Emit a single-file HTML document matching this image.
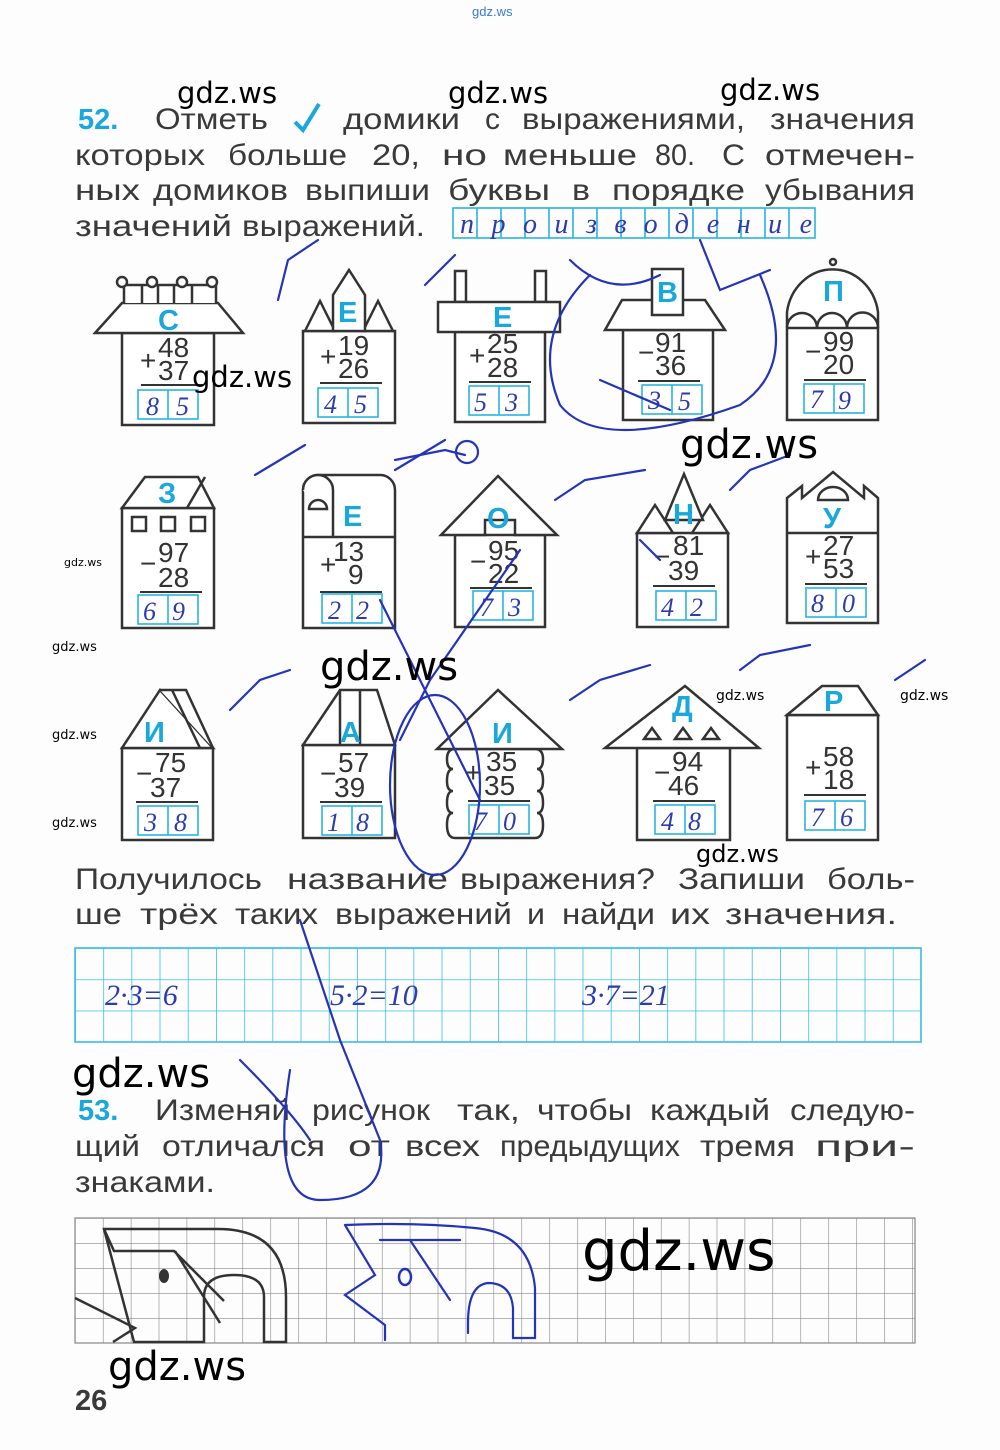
<!DOCTYPE html>
<html><head><meta charset="utf-8"><style>
html,body{margin:0;padding:0;background:#fff;}
svg{display:block;}
.t text{font-family:"Liberation Sans",sans-serif;font-size:30px;fill:#3a3a3a;}
.n{font-family:"Liberation Sans",sans-serif;font-size:28px;fill:#333;}
.L{font-family:"Liberation Sans",sans-serif;font-size:29px;font-weight:bold;fill:#1aa7dc;}
.h{font-family:"Liberation Serif",serif;font-style:italic;font-size:26px;fill:#2b3bb0;}
.w{font-family:"DejaVu Sans",sans-serif;fill:#000;}
.s{fill:#fff;stroke:#333;stroke-width:2.5;}
.b{fill:none;stroke:#28b4e0;stroke-width:1.6;}
.p{fill:none;stroke:#2434b8;stroke-width:2.2;stroke-linecap:round;}
</style></head><body>
<svg width="1000" height="1450" viewBox="0 0 1000 1450">
<rect width="1000" height="1450" fill="#fdfdfe"/>
<text x="472" y="16" font-family="Liberation Sans" font-size="13" fill="#3a7ad0">gdz.ws</text>

<text class="L" x="78" y="129">52.</text>
<path d="M295 122l8 8 16-26" stroke="#1aa7dc" stroke-width="4" fill="none"/>
<g class="t" lengthAdjust="spacingAndGlyphs">
<text x="155" y="129" textLength="113" lengthAdjust="spacingAndGlyphs">Отметь</text>
<text x="343" y="129" textLength="117" lengthAdjust="spacingAndGlyphs">домики</text>
<text x="485" y="129" textLength="15" lengthAdjust="spacingAndGlyphs">с</text>
<text x="522" y="129" textLength="223" lengthAdjust="spacingAndGlyphs">выражениями,</text>
<text x="770" y="129" textLength="145" lengthAdjust="spacingAndGlyphs">значения</text>

<text x="75" y="165" textLength="130" lengthAdjust="spacingAndGlyphs">которых</text>
<text x="228" y="165" textLength="119" lengthAdjust="spacingAndGlyphs">больше</text>
<text x="372" y="165" textLength="48" lengthAdjust="spacingAndGlyphs">20,</text>
<text x="442" y="165" textLength="45" lengthAdjust="spacingAndGlyphs">но</text>
<text x="503" y="165" textLength="134" lengthAdjust="spacingAndGlyphs">меньше</text>
<text x="655" y="165" textLength="40" lengthAdjust="spacingAndGlyphs">80.</text>
<text x="722" y="165" textLength="23" lengthAdjust="spacingAndGlyphs">С</text>
<text x="765" y="165" textLength="150" lengthAdjust="spacingAndGlyphs">отмечен-</text>

<text x="75" y="200" textLength="65" lengthAdjust="spacingAndGlyphs">ных</text>
<text x="153" y="200" textLength="135" lengthAdjust="spacingAndGlyphs">домиков</text>
<text x="305" y="200" textLength="125" lengthAdjust="spacingAndGlyphs">выпиши</text>
<text x="448" y="200" textLength="102" lengthAdjust="spacingAndGlyphs">буквы</text>
<text x="572" y="200" textLength="18" lengthAdjust="spacingAndGlyphs">в</text>
<text x="612" y="200" textLength="133" lengthAdjust="spacingAndGlyphs">порядке</text>
<text x="765" y="200" textLength="150" lengthAdjust="spacingAndGlyphs">убывания</text>

<text x="75" y="236" textLength="157" lengthAdjust="spacingAndGlyphs">значений</text>
<text x="242" y="236" textLength="183" lengthAdjust="spacingAndGlyphs">выражений.</text>

<text x="75" y="889" textLength="187" lengthAdjust="spacingAndGlyphs">Получилось</text>
<text x="287" y="889" textLength="161" lengthAdjust="spacingAndGlyphs">название</text>
<text x="460" y="889" textLength="195" lengthAdjust="spacingAndGlyphs">выражения?</text>
<text x="678" y="889" textLength="127" lengthAdjust="spacingAndGlyphs">Запиши</text>
<text x="827" y="889" textLength="88" lengthAdjust="spacingAndGlyphs">боль-</text>

<text x="75" y="924" textLength="47" lengthAdjust="spacingAndGlyphs">ше</text>
<text x="140" y="924" textLength="78" lengthAdjust="spacingAndGlyphs">трёх</text>
<text x="235" y="924" textLength="83" lengthAdjust="spacingAndGlyphs">таких</text>
<text x="335" y="924" textLength="177" lengthAdjust="spacingAndGlyphs">выражений</text>
<text x="527" y="924" textLength="18" lengthAdjust="spacingAndGlyphs">и</text>
<text x="562" y="924" textLength="93" lengthAdjust="spacingAndGlyphs">найди</text>
<text x="670" y="924" textLength="40" lengthAdjust="spacingAndGlyphs">их</text>
<text x="725" y="924" textLength="172" lengthAdjust="spacingAndGlyphs">значения.</text>

<text x="155" y="1120" textLength="135" lengthAdjust="spacingAndGlyphs">Изменяй</text>
<text x="312" y="1120" textLength="118" lengthAdjust="spacingAndGlyphs">рисунок</text>
<text x="457" y="1120" textLength="63" lengthAdjust="spacingAndGlyphs">так,</text>
<text x="537" y="1120" textLength="95" lengthAdjust="spacingAndGlyphs">чтобы</text>
<text x="650" y="1120" textLength="120" lengthAdjust="spacingAndGlyphs">каждый</text>
<text x="790" y="1120" textLength="125" lengthAdjust="spacingAndGlyphs">следую-</text>

<text x="75" y="1156" textLength="65" lengthAdjust="spacingAndGlyphs">щий</text>
<text x="162" y="1156" textLength="163" lengthAdjust="spacingAndGlyphs">отличался</text>
<text x="348" y="1156" textLength="42" lengthAdjust="spacingAndGlyphs">от</text>
<text x="405" y="1156" textLength="75" lengthAdjust="spacingAndGlyphs">всех</text>
<text x="500" y="1156" textLength="180" lengthAdjust="spacingAndGlyphs">предыдущих</text>
<text x="700" y="1156" textLength="95" lengthAdjust="spacingAndGlyphs">тремя</text>
<text x="815" y="1156" textLength="100" lengthAdjust="spacingAndGlyphs">при-</text>

<text x="75" y="1192" textLength="140" lengthAdjust="spacingAndGlyphs">знаками.</text>
</g>

<g class="b"><rect x="453" y="208" width="362" height="30"/>
<path d="M477 208v30M501 208v30M525 208v30M549 208v30M573 208v30M597 208v30M621 208v30M645 208v30M669 208v30M693 208v30M717 208v30M741 208v30M765 208v30M789 208v30"/></g>
<text class="h" x="460" y="233" textLength="352" style="font-size:28px">производение</text>

<!-- Row 1 -->
<g>
<rect class="s" x="122" y="333" width="92" height="92"/>
<polygon class="s" points="95,333 243,333 218,303 122,303"/>
<path class="s" d="M124 303v-18h92v18M142 303v-18M158 303v-18M174 303v-18M192 303v-18" fill="none"/>
<circle class="s" cx="122" cy="282" r="5"/><circle class="s" cx="152" cy="282" r="5"/><circle class="s" cx="182" cy="282" r="5"/><circle class="s" cx="212" cy="282" r="5"/>
<text class="L" x="158" y="330">С</text>
<text class="n" x="158" y="357">48</text><text class="n" x="140" y="370">+</text><text class="n" x="158" y="380">37</text>
<path d="M141 385h62" stroke="#333" stroke-width="2"/>
<rect class="b" x="138" y="390" width="60" height="29"/><path class="b" d="M168 390v29"/>
<text class="h" x="146" y="415">8</text><text class="h" x="176" y="415">5</text>
</g>
<g>
<rect class="s" x="303" y="331" width="92" height="92"/>
<polygon class="s" points="305,331 320,301 335,331"/><polygon class="s" points="363,331 378,301 393,331"/>
<polygon class="s" points="333,331 333,295 349,270 365,295 365,331"/>
<text class="L" x="338" y="322">Е</text>
<text class="n" x="338" y="355">19</text><text class="n" x="320" y="366">+</text><text class="n" x="338" y="378">26</text>
<path d="M320 383h62" stroke="#333" stroke-width="2"/>
<rect class="b" x="318" y="388" width="60" height="29"/><path class="b" d="M348 388v29"/>
<text class="h" x="324" y="413">4</text><text class="h" x="354" y="413">5</text>
</g>
<g>
<rect class="s" x="455" y="332" width="90" height="90"/>
<rect class="s" x="455" y="271" width="11" height="31"/><rect class="s" x="535" y="271" width="11" height="31"/>
<rect class="s" x="438" y="302" width="122" height="30"/>
<text class="L" x="493" y="327">Е</text>
<text class="n" x="487" y="353">25</text><text class="n" x="469" y="365">+</text><text class="n" x="487" y="377">28</text>
<path d="M469 382h62" stroke="#333" stroke-width="2"/>
<rect class="b" x="469" y="386" width="60" height="29"/><path class="b" d="M499 386v29"/>
<text class="h" x="474" y="411">5</text><text class="h" x="505" y="411">3</text>
</g>
<g>
<rect class="s" x="623" y="330" width="90" height="90"/>
<polygon class="s" points="605,330 725,330 705,300 622,300"/>
<rect class="s" x="652" y="269" width="31" height="46"/>
<text class="L" x="657" y="302">В</text>
<text class="n" x="655" y="352">91</text><text class="n" x="638" y="362">−</text><text class="n" x="655" y="375">36</text>
<path d="M638 381h62" stroke="#333" stroke-width="2"/>
<rect class="b" x="642" y="385" width="60" height="29"/><path class="b" d="M672 385v29"/>
<text class="h" x="648" y="409">3</text><text class="h" x="678" y="410">5</text>
</g>
<g>
<path class="s" d="M787 420V312A46 50 0 0 1 878 312V420Z"/>
<path class="s" d="M787 328h91M787 328a15 15 0 0 1 30 0a15 15 0 0 1 30 0a15 15 0 0 1 31 0" fill="none"/>
<circle class="s" cx="833" cy="262" r="3"/>
<text class="L" x="823" y="301">П</text>
<text class="n" x="823" y="351">99</text><text class="n" x="805" y="361">−</text><text class="n" x="823" y="374">20</text>
<path d="M804 380h62" stroke="#333" stroke-width="2"/>
<rect class="b" x="804" y="384" width="60" height="29"/><path class="b" d="M834 384v29"/>
<text class="h" x="810" y="408">7</text><text class="h" x="838" y="409">9</text>
</g>

<!-- Row 2 -->
<g>
<rect class="s" x="122" y="508" width="92" height="120"/>
<polygon class="s" points="122,508 145,477 198,477 214,508"/><path class="s" d="M187 508l18-31"/>
<text class="L" x="158" y="503">З</text>
<rect class="s" x="132" y="517" width="14" height="14"/><rect class="s" x="161" y="517" width="14" height="14"/><rect class="s" x="191" y="517" width="14" height="14"/>
<text class="n" x="158" y="562">97</text><text class="n" x="140" y="573">−</text><text class="n" x="158" y="587">28</text>
<path d="M140 592h62" stroke="#333" stroke-width="2"/>
<rect class="b" x="138" y="595" width="60" height="29"/><path class="b" d="M168 595v29"/>
<text class="h" x="143" y="620">6</text><text class="h" x="172" y="620">9</text>
</g>
<g>
<path class="s" d="M303 628V490a15 15 0 0 1 15-15h62a15 15 0 0 1 15 15V628Z"/>
<path class="s" d="M303 537h92M333 537V490a15 15 0 0 0-30 0" fill="none"/>
<path class="s" d="M309 509a9 9 0 0 1 18 0Z"/>
<text class="L" x="343" y="526">Е</text>
<text class="n" x="333" y="561">13</text><text class="n" x="320" y="574">+</text><text class="n" x="348" y="584">9</text>
<path d="M320 592h62" stroke="#333" stroke-width="2"/>
<rect class="b" x="322" y="594" width="60" height="29"/><path class="b" d="M352 594v29"/>
<text class="h" x="328" y="619">2</text><text class="h" x="356" y="619">2</text>
</g>
<g>
<rect class="s" x="455" y="535" width="90" height="92"/>
<polygon class="s" points="441,535 498,476 557,535 515,535 515,520 485,520 485,535"/>
<text class="L" x="487" y="528">О</text>
<text class="n" x="488" y="560">95</text><text class="n" x="470" y="571">−</text><text class="n" x="488" y="583">22</text>
<path d="M470 588h62" stroke="#333" stroke-width="2"/>
<rect class="b" x="473" y="591" width="60" height="29"/><path class="b" d="M503 591v29"/>
<text class="h" x="480" y="616">7</text><text class="h" x="508" y="616">3</text>
</g>
<g>
<rect class="s" x="637" y="533" width="91" height="94"/>
<polygon class="s" points="637,533 655,505 673,533"/><polygon class="s" points="692,533 710,505 728,533"/>
<polygon class="s" points="665,520 684,474 703,520"/>
<text class="L" x="673" y="524">Н</text>
<text class="n" x="673" y="555">81</text><text class="n" x="654" y="566">−</text><text class="n" x="668" y="580">39</text>
<path d="M653 586h62" stroke="#333" stroke-width="2"/>
<rect class="b" x="656" y="591" width="60" height="29"/><path class="b" d="M686 591v29"/>
<text class="h" x="661" y="616">4</text><text class="h" x="690" y="616">2</text>
</g>
<g>
<path class="s" d="M787 623V498l15-12v12l31-26 31 26v-12l14 12V623Z"/>
<path class="s" d="M787 533h91" fill="none"/>
<path class="s" d="M818 500a15 13 0 0 1 30 0Z"/>
<text class="L" x="823" y="528">У</text>
<text class="n" x="823" y="555">27</text><text class="n" x="805" y="566">+</text><text class="n" x="823" y="578">53</text>
<path d="M805 584h62" stroke="#333" stroke-width="2"/>
<rect class="b" x="806" y="588" width="60" height="29"/><path class="b" d="M836 588v29"/>
<text class="h" x="811" y="612">8</text><text class="h" x="842" y="612">0</text>
</g>

<!-- Row 3 -->
<g>
<rect class="s" x="122" y="748" width="91" height="92"/>
<polygon class="s" points="122,748 160,690 213,748"/><path class="s" d="M160 690l26 0 27 58M172 690l28 58" fill="none"/>
<text class="L" x="144" y="742">И</text>
<text class="n" x="155" y="772">75</text><text class="n" x="136" y="783">−</text><text class="n" x="150" y="797">37</text>
<path d="M136 802h62" stroke="#333" stroke-width="2"/>
<rect class="b" x="138" y="806" width="60" height="29"/><path class="b" d="M168 806v29"/>
<text class="h" x="144" y="831">3</text><text class="h" x="174" y="831">8</text>
</g>
<g>
<rect class="s" x="303" y="745" width="92" height="93"/>
<polygon class="s" points="303,745 340,690 377,690 395,745"/><path class="s" d="M340 690v55M360 690v55" fill="none"/>
<text class="L" x="340" y="742">А</text>
<text class="n" x="338" y="772">57</text><text class="n" x="320" y="783">−</text><text class="n" x="334" y="797">39</text>
<path d="M320 802h62" stroke="#333" stroke-width="2"/>
<rect class="b" x="322" y="806" width="60" height="29"/><path class="b" d="M352 806v29"/>
<text class="h" x="327" y="831">1</text><text class="h" x="356" y="831">8</text>
</g>
<g>
<path class="s" d="M455 749q-8 0-8 10q0 10 6 10q-6 0-6 12q0 10 6 10q-6 0-6 12q0 10 6 10q-6 0-6 12q0 13 8 13h80q8 0 8-13q0-12-6-12q6 0 6-10q0-12-6-12q6 0 6-10q0-12-6-12q6 0 6-10q0-10-8-10Z"/>
<polygon class="s" points="437,749 498,690 562,749"/>
<text class="L" x="492" y="743">И</text>
<text class="n" x="486" y="771">35</text><text class="n" x="465" y="782">+</text><text class="n" x="484" y="795">35</text>
<path d="M468 801h62" stroke="#333" stroke-width="2"/>
<rect class="b" x="469" y="805" width="60" height="29"/><path class="b" d="M499 805v29"/>
<text class="h" x="474" y="830">7</text><text class="h" x="503" y="830">0</text>
</g>
<g>
<rect class="s" x="637" y="748" width="93" height="92"/>
<polygon class="s" points="605,748 685,686 759,748"/>
<polygon class="s" points="644,739 652,728 660,739"/><polygon class="s" points="675,739 683,728 691,739"/><polygon class="s" points="703,739 711,728 719,739"/>
<text class="L" x="672" y="716">Д</text>
<text class="n" x="672" y="771">94</text><text class="n" x="654" y="782">−</text><text class="n" x="668" y="795">46</text>
<path d="M653 801h62" stroke="#333" stroke-width="2"/>
<rect class="b" x="655" y="805" width="60" height="29"/><path class="b" d="M685 805v29"/>
<text class="h" x="661" y="830">4</text><text class="h" x="688" y="830">8</text>
</g>
<g>
<rect class="s" x="787" y="715" width="91" height="125"/>
<polygon class="s" points="787,715 822,686 858,686 878,715"/>
<text class="L" x="824" y="711">Р</text>
<text class="n" x="823" y="766">58</text><text class="n" x="805" y="777">+</text><text class="n" x="823" y="789">18</text>
<path d="M804 795h62" stroke="#333" stroke-width="2"/>
<rect class="b" x="805" y="801" width="60" height="29"/><path class="b" d="M835 801v29"/>
<text class="h" x="811" y="826">7</text><text class="h" x="840" y="826">6</text>
</g>

<defs>
<pattern id="g1" x="75" y="948" width="28.2" height="31.3" patternUnits="userSpaceOnUse"><path d="M0 0h28.2M0 0v31.3" stroke="#3cbde3" stroke-width="1.6" fill="none"/></pattern>
<pattern id="g2" x="75" y="1218" width="27.9" height="25" patternUnits="userSpaceOnUse"><path d="M0 0h27.9M0 0v25" stroke="#888" stroke-width="1.2" fill="none"/></pattern>
</defs>
<rect x="75" y="948" width="846" height="94" fill="url(#g1)" stroke="#3cbde3" stroke-width="1.6"/>
<text class="h" x="105" y="1005" style="font-size:30px">2·3=6</text>
<text class="h" x="330" y="1005" style="font-size:30px">5·2=10</text>
<text class="h" x="582" y="1005" style="font-size:30px">3·7=21</text>

<text class="L" x="78" y="1120">53.</text>

<rect x="75" y="1218" width="840" height="125" fill="url(#g2)" stroke="#888" stroke-width="1.2"/>
<path d="M104 1229h54l60 0q68 0 68 68v45h-22v-45q0-22-30-22q-30 0-30 22v45h-70zM104 1229l10 22h60l50 50M75 1298l60 30-22 14M175 1251l45 72" stroke="#333" stroke-width="2.5" fill="none"/>
<ellipse cx="164" cy="1276" rx="5" ry="7" fill="#333"/>
<path class="p" d="M345 1225q70-3 130 3q55 5 60 60v50h-22v-30q-2-25-25-25q-20 2-20 40v10M345 1225l30 50-30 20 40 30v15M380 1240h80M410 1240l40 60"/>
<ellipse cx="405" cy="1277" rx="6" ry="8" fill="none" stroke="#2434b8" stroke-width="2.5"/>

<text x="75" y="1410" font-family="Liberation Sans" font-weight="bold" font-size="29" fill="#3a3a3a">26</text>

<!-- pen strokes -->
<path class="p" d="M278 300l10-40 30-20M425 285l30-30M570 260q40 40 90 15M600 380l70 30M255 475l50-30M395 470l50-30"/>
<path class="p" d="M590 275q-60 60-30 130 40 50 180 0q60-40 20-130M700 240l20 50 50-20"/>
<path class="p" d="M555 500l30-20 60-10M730 490l20-20 40-15M230 710l30-30 30-10M570 700l30-20 50-15M740 670l20-15 50-10M895 680l30-20"/>
<path class="p" d="M520 550l-90 130 -30 60M380 600l100 200M300 920l40 120 40 100q10 60-60 60q-50 0-30-130M240 1060q50 50 70 80"/>
<ellipse cx="435" cy="785" rx="45" ry="90" class="p"/>
<path class="p" d="M395 460l50-10 20 5M640 540l20 20"/>
<circle cx="467" cy="452" r="11" class="p"/>

<!-- watermarks -->
<text class="w" x="177" y="103" font-size="29">gdz.ws</text>
<text class="w" x="448" y="103" font-size="29">gdz.ws</text>
<text class="w" x="720" y="100" font-size="29">gdz.ws</text>
<text class="w" x="192" y="387" font-size="29">gdz.ws</text>
<text class="w" x="680" y="458" font-size="40">gdz.ws</text>
<text class="w" x="64" y="566" font-size="11">gdz.ws</text>
<text class="w" x="52" y="651" font-size="13">gdz.ws</text>
<text class="w" x="320" y="680" font-size="40">gdz.ws</text>
<text class="w" x="716" y="700" font-size="14">gdz.ws</text>
<text class="w" x="900" y="700" font-size="14">gdz.ws</text>
<text class="w" x="52" y="739" font-size="13">gdz.ws</text>
<text class="w" x="52" y="827" font-size="13">gdz.ws</text>
<text class="w" x="696" y="862" font-size="24">gdz.ws</text>
<text class="w" x="72" y="1087" font-size="40">gdz.ws</text>
<text class="w" x="582" y="1270" font-size="56">gdz.ws</text>
<text class="w" x="108" y="1380" font-size="40">gdz.ws</text>
</svg>
</body></html>
